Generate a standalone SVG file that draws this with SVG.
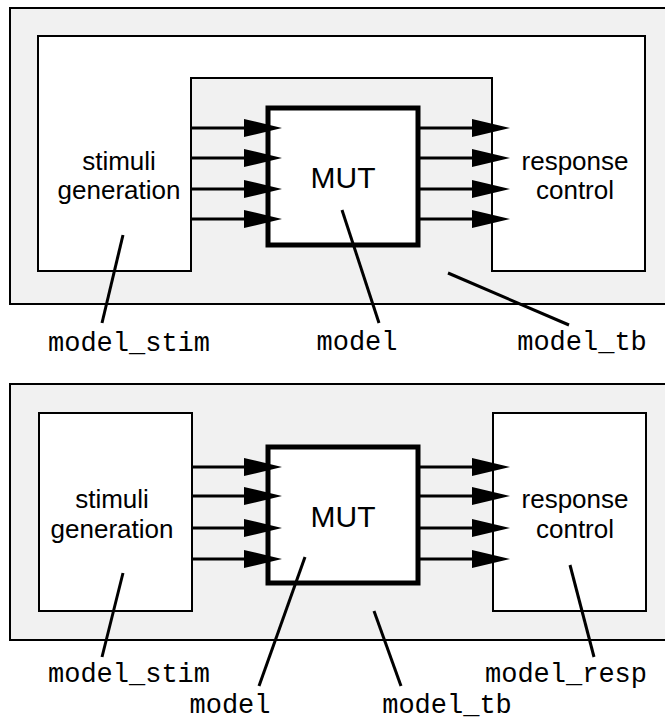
<svg xmlns="http://www.w3.org/2000/svg" width="665" height="720" viewBox="0 0 665 720">
<defs>
<style>
.outer{fill:#f1f1f1;stroke:#000;stroke-width:2}
.box{fill:#fff;stroke:#000;stroke-width:2}
.mut{fill:#fff;stroke:#000;stroke-width:5}
.sig{stroke:#000;stroke-width:3;fill:none;marker-end:url(#ah)}
.lead{stroke:#000;stroke-width:3;fill:none}
.lbl{font-family:"Liberation Sans",Arial,sans-serif;font-size:26px;text-anchor:middle;fill:#000}
.mutt{font-family:"Liberation Sans",Arial,sans-serif;font-size:30px;text-anchor:middle;fill:#000}
.code{font-family:"Liberation Mono","Courier New",monospace;font-size:27px;text-anchor:middle;fill:#000}
</style>
<marker id="ah" markerUnits="userSpaceOnUse" markerWidth="40" markerHeight="20" refX="6" refY="9" orient="auto" overflow="visible">
<path d="M0,0 L38,9 L0,18 Z" fill="#000"/>
</marker>
</defs>

<!-- top diagram -->
<g id="top_model_tb">
<rect class="outer" x="10" y="8" width="660" height="296"/>
</g>
<g id="top_model_stim_resp">
<path class="box" d="M38,36 H645 V271 H492 V78 H191 V271 H38 Z"/>
<text class="lbl" x="119" y="170">stimuli</text>
<text class="lbl" x="119" y="199">generation</text>
<text class="lbl" x="575" y="170">response</text>
<text class="lbl" x="575" y="199">control</text>
</g>
<g id="top_mut">
<rect class="mut" x="268" y="108" width="150" height="137"/>
<text class="mutt" x="343" y="188">MUT</text>
</g>
<g id="top_connectors">
<path class="sig" d="M191,128 H250"/>
<path class="sig" d="M191,158 H250"/>
<path class="sig" d="M191,189 H250"/>
<path class="sig" d="M191,219 H250"/>
<path class="sig" d="M418,128 H478"/>
<path class="sig" d="M418,158 H478"/>
<path class="sig" d="M418,189 H478"/>
<path class="sig" d="M418,219 H478"/>
<path class="lead" d="M123,235 L102,323"/>
<path class="lead" d="M342,210 L379,323"/>
<path class="lead" d="M448,273 L569,325"/>
</g>
<g id="top_labels">
<text class="code" x="129" y="351">model_stim</text>
<text class="code" x="357" y="350">model</text>
<text class="code" x="582" y="350">model_tb</text>
</g>

<!-- bottom diagram -->
<g id="bot_model_tb">
<rect class="outer" x="10" y="384" width="660" height="256"/>
</g>
<g id="bot_model_stim">
<rect class="box" x="39" y="413" width="153" height="198"/>
<text class="lbl" x="112" y="508">stimuli</text>
<text class="lbl" x="112" y="538">generation</text>
</g>
<g id="bot_model_resp">
<rect class="box" x="493" y="413" width="153" height="198"/>
<text class="lbl" x="575" y="508">response</text>
<text class="lbl" x="575" y="538">control</text>
</g>
<g id="bot_mut">
<rect class="mut" x="268" y="447" width="150" height="136"/>
<text class="mutt" x="343" y="527">MUT</text>
</g>
<g id="bot_connectors">
<path class="sig" d="M192,467 H250"/>
<path class="sig" d="M192,496 H250"/>
<path class="sig" d="M192,528 H250"/>
<path class="sig" d="M192,559 H250"/>
<path class="sig" d="M418,467 H478"/>
<path class="sig" d="M418,496 H478"/>
<path class="sig" d="M418,528 H478"/>
<path class="sig" d="M418,559 H478"/>
<path class="lead" d="M123,573 L102,657"/>
<path class="lead" d="M305,557 L259,686"/>
<path class="lead" d="M374,611 L401,686"/>
<path class="lead" d="M570,565 L594,657"/>
</g>
<g id="bot_labels">
<text class="code" x="129" y="682">model_stim</text>
<text class="code" x="566" y="682">model_resp</text>
<text class="code" x="230" y="713">model</text>
<text class="code" x="447" y="713">model_tb</text>
</g>
</svg>
